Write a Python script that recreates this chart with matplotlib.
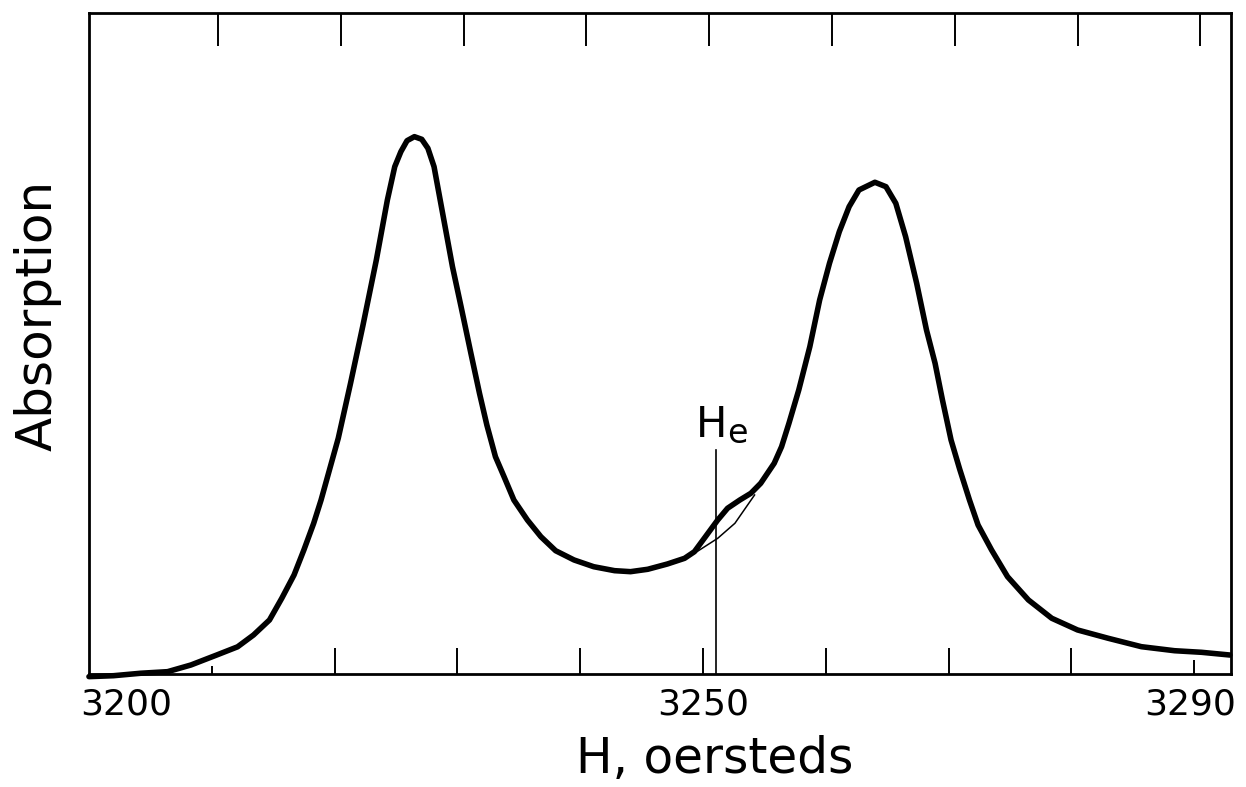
import matplotlib
matplotlib.use("Agg")
import matplotlib.pyplot as plt
import matplotlib.transforms as mtransforms

plt.rcParams['font.family'] = ['DejaVu Sans']

# ---- data (field in oersteds, absorption in arbitrary units 0-100) ----
field = [3200.0, 3202.0, 3204.2, 3206.4, 3208.3, 3210.4, 3212.1, 3213.4, 3214.7, 3215.7,
         3216.7, 3217.5, 3218.3, 3218.9, 3220.3, 3221.3, 3222.3, 3223.4, 3224.3, 3224.9,
         3225.4, 3225.9, 3226.5, 3227.1, 3227.6, 3228.1, 3228.9, 3229.6, 3230.3, 3231.1,
         3231.8, 3232.4, 3233.1, 3233.8, 3234.6, 3235.7, 3236.8, 3238.0, 3239.5, 3241.1,
         3242.8, 3244.1, 3245.5, 3247.1, 3248.5, 3249.3, 3250.2, 3251.2, 3252.0, 3253.0,
         3253.9, 3254.7, 3255.8, 3256.4, 3257.0, 3257.8, 3258.7, 3259.5, 3260.3, 3261.1,
         3261.9, 3262.7, 3264.0, 3264.9, 3265.7, 3266.5, 3267.4, 3268.2, 3268.9, 3269.5,
         3270.2, 3270.9, 3271.7, 3272.4, 3273.5, 3274.8, 3276.5, 3278.4, 3280.5, 3283.0,
         3285.7, 3288.4, 3290.6, 3292.9]
absorption = [-0.4, -0.26, 0.11, 0.35, 1.36, 2.87, 4.11, 5.90, 8.17, 11.45,
              14.98, 18.76, 22.80, 26.32, 35.66, 43.98, 52.65, 62.63, 71.71, 76.75,
              79.02, 80.68, 81.29, 80.89, 79.53, 76.75, 68.68, 61.62, 55.57, 48.52,
              42.47, 37.67, 32.87, 29.85, 26.32, 23.30, 20.77, 18.65, 17.25, 16.23,
              15.63, 15.48, 15.84, 16.64, 17.50, 18.50, 20.77, 23.30, 25.07, 26.32,
              27.34, 28.85, 31.88, 34.39, 37.93, 42.97, 49.52, 56.58, 62.13, 66.91,
              70.70, 73.22, 74.39, 73.72, 71.21, 66.16, 59.11, 52.04, 47.00, 41.45,
              35.40, 31.00, 26.32, 22.54, 18.76, 14.72, 11.20, 8.43, 6.66, 5.40,
              4.13, 3.52, 3.28, 2.87]

# thin underlying curve beneath the small shoulder
base_field = [3249.3, 3251.2, 3252.6, 3254.2]
base_absorption = [18.26, 20.53, 22.80, 27.08]

# marker line H_e
he_field = 3251.1
he_top = 33.9

x_ticks = [3200, 3210, 3220, 3230, 3240, 3250, 3260, 3270, 3280, 3290]
x_tick_labels = ['3200', '', '', '', '', '3250', '', '', '', '3290']
top_ticks = [3210.5, 3220.5, 3230.5, 3240.5, 3250.5, 3260.5, 3270.5, 3280.5, 3290.5]
x_range = (3200, 3293)
y_range = (0, 100)

fig = plt.figure(figsize=(12.46, 7.87), dpi=100)
ax = fig.add_axes([0.0714, 0.1436, 0.9166, 0.8399])

ax.plot(field, absorption, color='black', lw=4.0, solid_capstyle='round',
        solid_joinstyle='round', zorder=3, clip_on=False)
ax.plot(base_field, base_absorption, color='black', lw=1.1, zorder=3,
        solid_joinstyle='round')
ax.plot([he_field, he_field], [0, he_top], color='black', lw=1.2, zorder=2)

ax.text(3249.4, 35.9, 'H', fontsize=30, ha='left', va='baseline')
ax.text(3252.0, 34.9, 'e', fontsize=24, ha='left', va='baseline')

ax.set_xlim(*x_range)
ax.set_ylim(*y_range)
ax.set_yticks([])

for s in ax.spines.values():
    s.set_linewidth(2.0)

ax.set_xticks(x_ticks)
ax.set_xticklabels(x_tick_labels, fontsize=26)
ax.tick_params(axis='x', direction='in', length=19, width=1.4, pad=10, bottom=True, top=False)
ticks = ax.xaxis.get_major_ticks()
lengths = [0, 6, 19, 19, 19, 19, 19, 19, 19, 10]
for t, L in zip(ticks, lengths):
    t.tick1line.set_markersize(L)

# shift the 3200 label to the right like the original
lbls = ax.get_xticklabels()
off = mtransforms.ScaledTranslation(37 / 100, 0, fig.dpi_scale_trans)
lbls[0].set_transform(lbls[0].get_transform() + off)
off2 = mtransforms.ScaledTranslation(-4 / 100, 0, fig.dpi_scale_trans)
lbls[-1].set_transform(lbls[-1].get_transform() + off2)

ax_top = ax.twiny()
ax_top.set_xlim(*x_range)
ax_top.set_xticks(top_ticks)
ax_top.set_xticklabels([])
ax_top.tick_params(axis='x', direction='in', length=24, width=1.4, top=True, bottom=False)
for s in ax_top.spines.values():
    s.set_visible(False)

ax.set_xlabel('H, oersteds', fontsize=35, labelpad=4)
ax.xaxis.set_label_coords(0.548, -0.093)
ax.set_ylabel('Absorption', fontsize=36, labelpad=8)
ax.yaxis.set_label_coords(-0.024, 0.543)

fig.savefig('out.png', dpi=100)
